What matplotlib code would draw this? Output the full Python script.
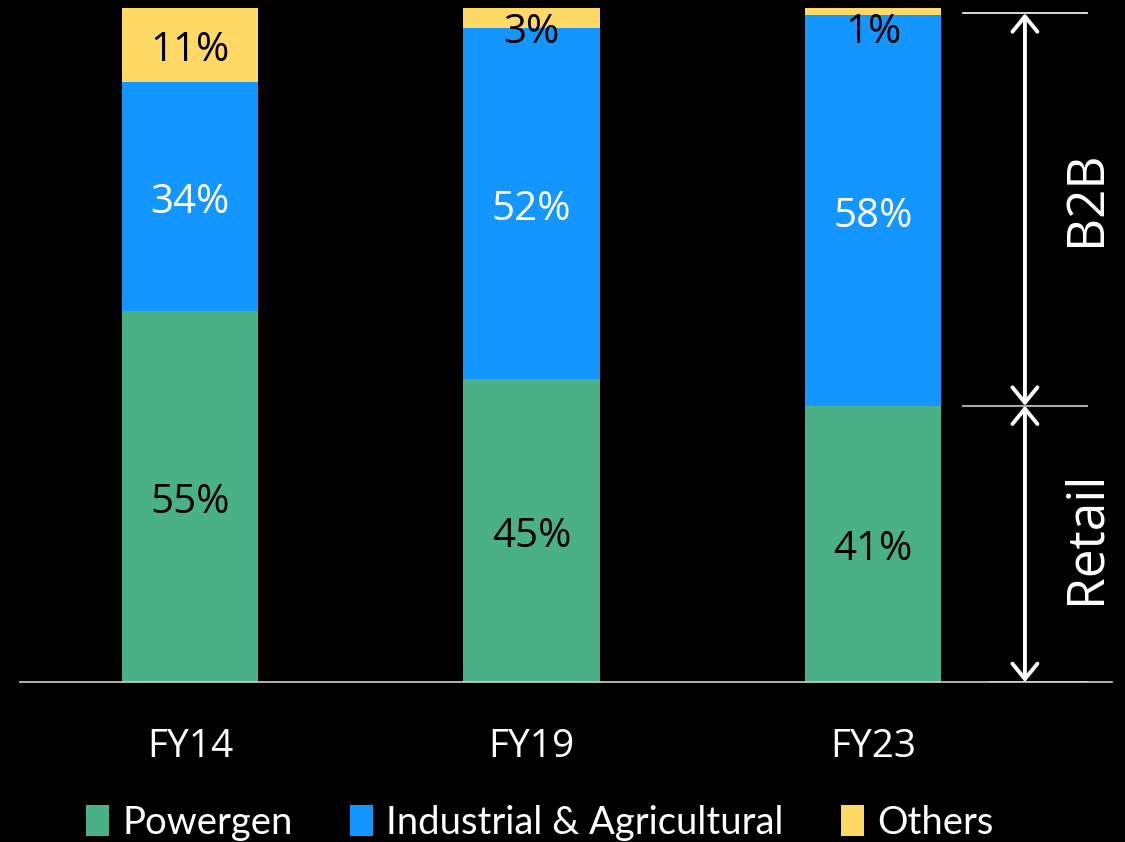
import numpy as np
import matplotlib.pyplot as plt

# share of sales by segment (%)
years = ['FY14', 'FY19', 'FY23']
powergen = [55, 45, 41]
industrial = [34, 52, 58]
others = [11, 3, 1]
segments = ['Powergen', 'Industrial & Agricultural', 'Others']

green = '#4AB087'
blue = '#1396FF'
yellow = '#FFD865'

num_font = 'Open Sans'
leg_font = 'Lato'

fig = plt.figure(figsize=(11.25, 8.42), dpi=100, facecolor='black')
ax = fig.add_axes([20 / 1125, 0.19, (1112 - 20) / 1125, 0.8005])
ax.set_facecolor('black')

x = np.arange(len(years))
w = 0.4
b1 = ax.bar(x, powergen, w, color=green, label=segments[0])
b2 = ax.bar(x, industrial, w, bottom=powergen, color=blue, label=segments[1])
bottom3 = np.array(powergen) + np.array(industrial)
b3 = ax.bar(x, others, w, bottom=bottom3, color=yellow, label=segments[2])

# value labels (small nudge down so the digits sit visually centred)
dy = 0.9
for i in range(len(years)):
    ax.text(x[i], powergen[i] / 2 - dy, f'{powergen[i]}%', ha='center', va='center',
            color='black', fontsize=29, family=num_font)
    ax.text(x[i], powergen[i] + industrial[i] / 2 - dy, f'{industrial[i]}%', ha='center',
            va='center', color='white', fontsize=29, family=num_font)
    y_o = bottom3[i] + others[i] / 2 - dy
    if others[i] < 6:
        y_o = 96.3
    ax.text(x[i], y_o, f'{others[i]}%', ha='center', va='center',
            color='black', fontsize=29, family=num_font)

ax.set_xlim(-0.498, 2.70)
ax.set_ylim(0, 100)
ax.set_xticks(x)
ax.set_xticklabels(years, color='white', fontsize=28, family=num_font)
ax.tick_params(axis='x', length=0, pad=33)
ax.set_yticks([])
for s in ['top', 'left', 'right']:
    ax.spines[s].set_visible(False)
ax.spines['bottom'].set_color('#d0d0d0')
ax.spines['bottom'].set_linewidth(1.2)

# B2B / Retail brackets on the right
top = bottom3[-1] + others[-1] - 0.8
split = powergen[-1]
x0, x1, xa = 2.263, 2.627, 2.445
ax.plot([x0, x1], [top, top], color='white', lw=1.2)
ax.plot([x0, x1], [split, split], color='#a8a8a8', lw=1.5)
ax.plot([x0 + 0.08, x1], [0, 0], color='white', lw=1.2)
arrow = dict(arrowstyle='<->,head_length=0.55,head_width=0.45', color='white',
             lw=2.8, mutation_scale=20, shrinkA=0, shrinkB=0)
ax.annotate('', xy=(xa, top), xytext=(xa, split), arrowprops=arrow)
ax.annotate('', xy=(xa, split), xytext=(xa, 0), arrowprops=arrow)
ax.text(2.625, (top + split) / 2 + 1.6, 'B2B', rotation=90, ha='center', va='center',
        color='white', fontsize=37, family=num_font)
ax.text(2.625, split / 2 + 1.0, 'Retail', rotation=90, ha='center', va='center',
        color='white', fontsize=37, family=num_font)

leg = fig.legend(handles=[b1, b2, b3], loc='center', bbox_to_anchor=(0.48, 0.023),
                 ncol=3, frameon=False, handlelength=0.6, handleheight=0.85,
                 handletextpad=0.35, columnspacing=1.5,
                 prop={'family': leg_font, 'size': 27.5})
for t in leg.get_texts():
    t.set_color('white')

fig.savefig('out.png', dpi=100, facecolor='black')
